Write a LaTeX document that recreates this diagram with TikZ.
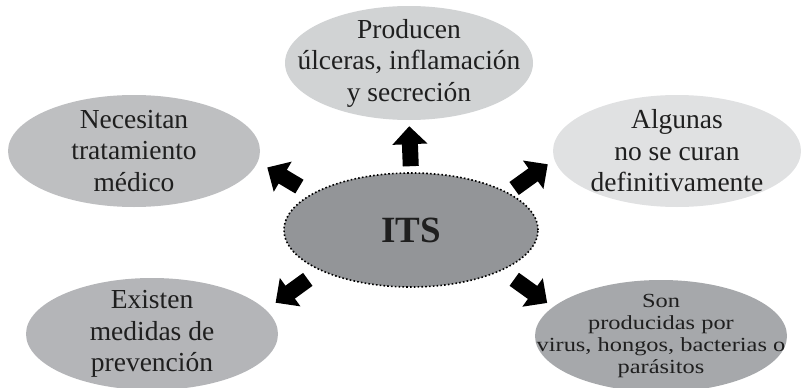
\documentclass[tikz,border=0pt]{standalone}
\usepackage{graphicx}
\usepackage{fontspec}
\setmainfont{Liberation Serif}
\usepackage{tikz}
\usetikzlibrary{arrows.meta,shapes.geometric}

\definecolor{itsfill}{RGB}{147,149,152}
\definecolor{ulcfill}{RGB}{209,211,212}
\definecolor{tratfill}{RGB}{190,191,193}
\definecolor{curfill}{RGB}{224,225,226}
\definecolor{prevfill}{RGB}{180,181,184}
\definecolor{causfill}{RGB}{166,168,171}

\begin{document}
\begin{tikzpicture}[x=1pt, y=-1pt,
  every node/.style={font=\fontsize{27.5}{31.5}\selectfont, text=black!88, align=center},
  bubble/.style={ellipse, inner sep=0pt, minimum width=252pt, minimum height=112pt},
  blocktext/.style={inner sep=0pt},
  blockarrow/.style={black, line width=16pt, -{Triangle[width=34pt, length=18pt]}}]

%% ── Canvas (pixel grid 801 x 388, y downwards) ───────────────────────────────
\useasboundingbox (0, 0) rectangle (801, 388);

%% ── Central idea ─────────────────────────────────────────────────────────────
\node[bubble, fill=itsfill, minimum width=254pt, minimum height=114pt,
      draw=black, line width=1.6pt, dash pattern=on 1.6pt off 2.2pt]
  (its) at (411, 230) {};
\node[blocktext, font=\fontsize{37}{40}\selectfont\bfseries]
  (its-txt) at (its) {ITS};

%% ── Surrounding ideas ────────────────────────────────────────────────────────
\node[bubble, fill=ulcfill, minimum width=248pt, minimum height=114pt]
  (ulceras) at (409, 63) {};
\node[blocktext] (ulceras-txt) at (ulceras) {Producen\\úlceras, inflamación\\y secreción};

\node[bubble, fill=tratfill] (tratamiento) at (134, 151) {};
\node[blocktext] (tratamiento-txt) at (tratamiento) {Necesitan\\tratamiento\\médico};

\node[bubble, fill=curfill, minimum width=248pt] (curan) at (677, 151) {};
\node[blocktext] (curan-txt) at (curan) {Algunas\\no se curan\\definitivamente};

\node[bubble, fill=prevfill] (prevencion) at (152, 334) {};
\node[blocktext] (prevencion-txt) at (prevencion) {Existen\\medidas de\\prevención};

\node[bubble, fill=causfill] (causas) at (661, 336) {};
\node[blocktext] (causas-txt) at (causas)
  {\scalebox{1.22}[1]{\fontsize{20}{22}\selectfont
   \begin{tabular}{@{}c@{}}Son\\producidas por\\virus, hongos, bacterias o\\parásitos\end{tabular}}};

%% ── Block arrows ─────────────────────────────────────────────────────────────
\draw[blockarrow, shorten <=6pt, shorten >=6pt]  (its.north) -- (ulceras.south);
\draw[blockarrow, shorten <=14pt, shorten >=11pt] (its.160) -- (tratamiento.-5);
\draw[blockarrow, shorten <=7pt, shorten >=8pt]   (its.21) -- (curan.184);
\draw[blockarrow, shorten <=15pt, shorten >=12pt] (its.204) -- (prevencion.12);
\draw[blockarrow, shorten <=15pt, shorten >=7pt]  (its.-24) -- (causas.165);

\end{tikzpicture}
\end{document}
